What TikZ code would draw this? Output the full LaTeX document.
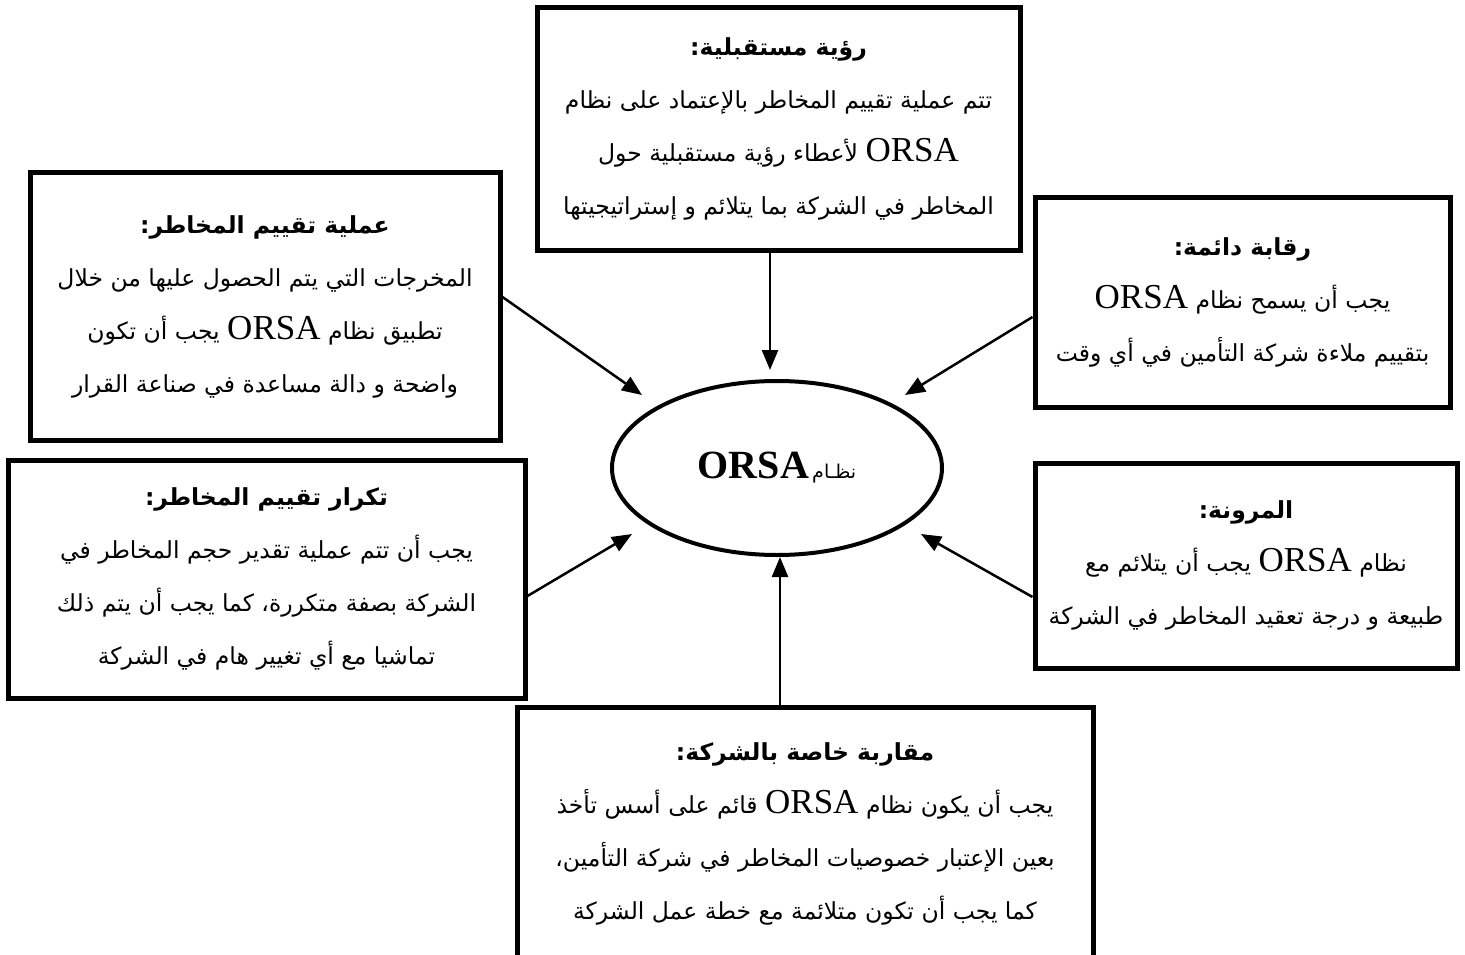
\documentclass[tikz,border=0pt]{standalone}
\usepackage{fontspec}
\usetikzlibrary{shapes.geometric,arrows.meta}
\TeXXeTstate=1
\newfontfamily\ar[Script=Arabic]{DejaVu Sans}
\newfontfamily\lat{Liberation Serif}
\newcommand\orsa{\beginL{\lat\fontsize{35}{53}\selectfont ORSA}\endL}
\newcommand\rl[1]{\beginR #1\endR}
\tikzset{
  box/.style={draw, line width=5pt, rectangle, align=center, inner sep=0pt,
    font=\ar\fontsize{23.5}{53}\selectfont},
  conn/.style={line width=2.5pt, -{Triangle[length=20pt,width=16pt]}},
}
\begin{document}
\begin{tikzpicture}[x=1pt,y=-1pt]
\useasboundingbox (0,0) rectangle (1465,955);
\fill[white] (0,0) rectangle (1465,955);

\node[box, minimum width=483pt, minimum height=242pt] (top) at (778.5,129)
 {\rl{\bfseries رؤية مستقبلية:}\\
  \rl{تتم عملية تقييم المخاطر بالإعتماد على نظام}\\
  \rl{\orsa{} لأعطاء رؤية مستقبلية حول}\\
  \rl{المخاطر في الشركة بما يتلائم و إستراتيجيتها}};

\node[box, minimum width=470pt, minimum height=267pt] (lt) at (265,306.5)
 {\rl{\bfseries عملية تقييم المخاطر:}\\
  \rl{المخرجات التي يتم الحصول عليها من خلال}\\
  \rl{تطبيق نظام \orsa{} يجب أن تكون}\\
  \rl{واضحة و دالة مساعدة في صناعة القرار}};

\node[box, minimum width=415pt, minimum height=210pt] (rt) at (1242.5,302)
 {\rl{\bfseries رقابة دائمة:}\\
  \rl{يجب أن يسمح نظام \orsa}\\
  \rl{بتقييم ملاءة شركة التأمين في أي وقت}};

\node[box, minimum width=422pt, minimum height=205pt] (rb) at (1246,565.5)
 {\rl{\bfseries المرونة:}\\
  \rl{نظام \orsa{} يجب أن يتلائم مع}\\
  \rl{طبيعة  و درجة تعقيد المخاطر في الشركة}};

\node[box, minimum width=517pt, minimum height=238pt] (lb) at (266.5,579)
 {\rl{\bfseries تكرار تقييم المخاطر:}\\
  \rl{يجب أن تتم عملية تقدير حجم المخاطر في}\\
  \rl{الشركة بصفة متكررة، كما يجب أن يتم ذلك}\\
  \rl{تماشيا مع أي تغيير هام في الشركة}};

\node[box, minimum width=576pt, minimum height=254pt] (bot) at (805,834)
 {\rl{\bfseries مقاربة خاصة بالشركة:}\\
  \rl{يجب أن يكون نظام \orsa{} قائم على أسس تأخذ}\\
  \rl{بعين الإعتبار خصوصيات المخاطر في شركة التأمين،}\\
  \rl{كما يجب أن تكون متلائمة مع خطة عمل الشركة}};

\node[draw, ellipse, line width=4pt, minimum width=330pt, minimum height=174pt, inner sep=0pt] (c) at (777,468)
 {\beginR{\ar\fontsize{19}{20}\selectfont نظـام} \beginL{\lat\bfseries\fontsize{40}{44}\selectfont ORSA}\endL\endR};

\coordinate (tT) at (770,370);
\coordinate (tLT) at (642,395);
\coordinate (tRT) at (905,395);
\coordinate (tLB) at (632,534);
\coordinate (tRB) at (921,534);
\coordinate (tB) at (780,557);

\draw[conn] ([xshift=-8.5pt]top.south) -- (tT);
\draw[conn] ([yshift=9.5pt]lt.east) -- (tLT);
\draw[conn] ([yshift=-15pt]rt.west) -- (tRT);
\draw[conn] ([yshift=-17pt]lb.east) -- (tLB);
\draw[conn] ([yshift=-31.5pt]rb.west) -- (tRB);
\draw[conn] ([xshift=-25pt]bot.north) -- (tB);
\end{tikzpicture}
\end{document}
